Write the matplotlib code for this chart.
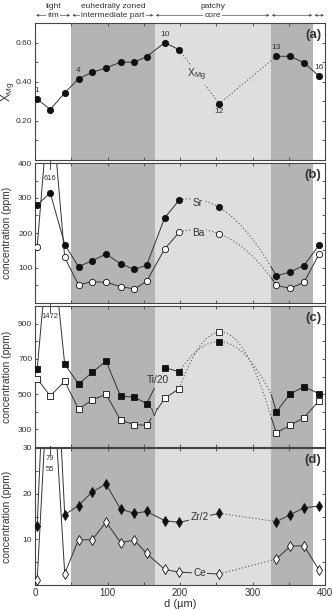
import numpy as np
import matplotlib
matplotlib.use('Agg')
import matplotlib.pyplot as plt
import matplotlib.transforms as mtransforms
from matplotlib.ticker import MultipleLocator, FixedLocator, FormatStrFormatter

# distance from rim (um) of the 16 analysis spots
d = [3, 21, 41, 60, 79, 98, 118, 137, 154, 179, 199, 254, 333, 352, 371, 392]

xmg = [0.312, 0.258, 0.343, 0.415, 0.448, 0.470, 0.500, 0.500, 0.528, 0.600, 0.563, 0.288, 0.530, 0.530, 0.497, 0.428]
sr = [280, 315, 167, 104, 121, 140, 112, 96, 108, 244, 294, 273, 77, 89, 107, 166]
ba = [160, 616, 130, 52, 61, 59, 47, 40, 62, 155, 202, 198, 50, 42, 59, 140]
ti20 = [642, 1472, 669, 558, 623, 688, 488, 483, 446, 650, 627, 798, 400, 502, 542, 502]
v = [587, 490, 573, 415, 467, 500, 352, 327, 323, 477, 531, 852, 281, 323, 367, 463]
zr2 = [13.0, 79, 15.4, 17.4, 20.4, 22.1, 16.6, 15.7, 16.1, 14.1, 13.7, 15.7, 13.9, 15.4, 16.9, 17.3]
ce = [1.1, 55, 2.5, 9.9, 9.9, 13.8, 9.3, 9.8, 6.9, 3.4, 2.8, 2.4, 5.7, 8.5, 8.6, 3.2]

# where the dotted interpolation in (b) and (c) ends
gap_x = 326
sr_gap, ba_gap, ti_gap, v_gap = 102, 72, 496, 365

# zones
zone_edges = [0, 50, 165, 325, 384, 400]
zone_top = ['light', 'euhedrally zoned', 'patchy', '', '']
zone_bottom = ['rim', 'intermediate part', 'core', '', '']
zone_colors = ['white', '#b4b4b4', '#dedede', '#b4b4b4', 'white']

spot_numbers = {0: '1', 3: '4', 9: '10', 11: '12', 12: '13', 15: '16'}

plt.rcParams['font.family'] = ['Liberation Sans', 'DejaVu Sans']
TXT = '#333333'
LN = '#333333'
MK = '#111111'

fig = plt.figure(figsize=(3.32, 6.09), dpi=100)
W, H = 332, 609
boxes = [(23, 160), (163, 303), (306, 447), (448, 585)]
axes = [fig.add_axes([35 / W, 1 - b / H, 290 / W, (b - t) / H]) for t, b in boxes]
ax_a, ax_b, ax_c, ax_d = axes

for ax, letter in zip(axes, 'abcd'):
    for i in range(len(zone_edges) - 1):
        if zone_colors[i] != 'white':
            ax.axvspan(zone_edges[i], zone_edges[i + 1], color=zone_colors[i], lw=0, zorder=0)
    ax.set_xlim(0, 400)
    ax.xaxis.set_major_locator(MultipleLocator(100))
    ax.xaxis.set_minor_locator(MultipleLocator(50))
    ax.tick_params(which='both', direction='in', top=True, right=True, length=2.5,
                   width=0.6, color='#444444', labelcolor=TXT, labelsize=6, pad=2)
    for s in ax.spines.values():
        s.set_color('#444444')
        s.set_linewidth(0.8)
    if letter != 'd':
        ax.tick_params(labelbottom=False)
    ax.text(0.988, 0.915, f'({letter})', transform=ax.transAxes, ha='right', va='center',
            fontsize=9.5, fontweight='bold', color=TXT)

line_kw = dict(color=LN, lw=0.7, zorder=2)
dot_kw = dict(color='#555555', lw=0.8, ls=(0, (1, 2)), zorder=2)


def markers(ax, y, marker, filled, ms):
    ax.plot(d, y, ls='none', marker=marker, ms=ms, mfc=MK if filled else 'white',
            mec=MK, mew=0.6, zorder=3)


def dotted_curve(ax, xs, ys):
    coef = np.polyfit(xs, ys, 2)
    xx = np.linspace(xs[0], xs[-1], 80)
    ax.plot(xx, np.polyval(coef, xx), **dot_kw)


def part_segment(ax, i, y, t0, t1):
    xa, xb, ya, yb = d[i], d[i + 1], y[i], y[i + 1]
    ax.plot([xa + t0 * (xb - xa), xa + t1 * (xb - xa)],
            [ya + t0 * (yb - ya), ya + t1 * (yb - ya)], **line_kw)


def inline_label(ax, x, y, s, size=7.3):
    ax.text(x, y, s, ha='center', va='center', fontsize=size, color=TXT, zorder=4,
            bbox=dict(boxstyle='square,pad=0.12', fc='#dedede', ec='none'))


def offscale(ax, tick_lo, tick_hi, labels):
    ax.plot([d[1], d[1]], [tick_lo, tick_hi], color=LN, lw=0.6, clip_on=False, zorder=4)
    for yy, s in labels:
        ax.text(d[1], yy, s, ha='center', va='center', fontsize=5.5, color=TXT, zorder=4)


def ylabel(ax, s, size=7.5):
    ax.set_ylabel(s, fontsize=size, color=TXT, va='center')
    ax.yaxis.set_label_coords(-0.095, 0.5)


# (a) X_Mg
ax_a.plot(d[:11], xmg[:11], **line_kw)
ax_a.plot(d[10:13], xmg[10:13], **dot_kw)
ax_a.plot(d[12:], xmg[12:], **line_kw)
markers(ax_a, xmg, 'o', True, 4.5)
inline_label(ax_a, 223, 0.433, r'$\mathregular{X_{Mg}}$', 7.5)
for i, s in spot_numbers.items():
    below = i == 11
    ax_a.annotate(s, (d[i], xmg[i]), xytext=(0, -6 if below else 6), textcoords='offset points',
                  ha='center', va='center', fontsize=6, color=TXT)
ax_a.set_ylim(0, 0.70)
ax_a.yaxis.set_major_locator(FixedLocator([0.2, 0.4, 0.6]))
ax_a.yaxis.set_minor_locator(MultipleLocator(0.1))
ax_a.yaxis.set_major_formatter(FormatStrFormatter('%.2f'))
ylabel(ax_a, r'$\mathregular{X_{Mg}}$', 8.5)

# header with zone arrows
trans = mtransforms.blended_transform_factory(ax_a.transData, ax_a.transAxes)
for i in range(len(zone_edges) - 1):
    x0, x1 = zone_edges[i], zone_edges[i + 1]
    ax_a.annotate('', xy=(x1 - 1.5, 1.056), xytext=(x0 + 1.5, 1.056), xycoords=trans, textcoords=trans,
                  arrowprops=dict(arrowstyle='<|-|>', lw=0.5, color='#555555', mutation_scale=3.5,
                                  shrinkA=0, shrinkB=0), annotation_clip=False)
    if zone_bottom[i]:
        xc = (x0 + x1) / 2
        ax_a.text(xc, 1.056, zone_bottom[i], transform=trans, ha='center', va='center', fontsize=6,
                  color=TXT, bbox=dict(boxstyle='square,pad=0.15', fc='white', ec='none'))
        ax_a.text(xc, 1.118, zone_top[i], transform=trans, ha='center', va='center', fontsize=6,
                  color=TXT)

# (b) Sr and Ba
for y, gy, filled, name, ly in [(sr, sr_gap, True, 'Sr', 285), (ba, ba_gap, False, 'Ba', 200)]:
    ax_b.plot(d[:11], y[:11], **line_kw)
    dotted_curve(ax_b, [d[10], d[11], gap_x], [y[10], y[11], gy])
    ax_b.plot([gap_x] + d[12:], [gy] + y[12:], **line_kw)
    markers(ax_b, y, 'o', filled, 4.5)
    inline_label(ax_b, 225, ly, name)
offscale(ax_b, 383, 405, [(355, '616')])
ax_b.set_ylim(0, 400)
ax_b.yaxis.set_major_locator(FixedLocator([100, 200, 300, 400]))
ax_b.yaxis.set_minor_locator(MultipleLocator(50))
ylabel(ax_b, 'concentration (ppm)')

# (c) Ti/20 and V
for y, gy, filled, gap in [(ti20, ti_gap, True, (0.42, 0.92)), (v, v_gap, False, (0.25, 0.58))]:
    ax_c.plot(d[:9], y[:9], **line_kw)
    part_segment(ax_c, 8, y, 0, gap[0])
    part_segment(ax_c, 8, y, gap[1], 1)
    ax_c.plot(d[9:11], y[9:11], **line_kw)
    dotted_curve(ax_c, [d[10], d[11], gap_x], [y[10], y[11], gy])
    ax_c.plot([gap_x] + d[12:], [gy] + y[12:], **line_kw)
    markers(ax_c, y, 's', filled, 4)
ax_c.text(170, 578, 'Ti/20', ha='center', va='center', fontsize=7.3, color=TXT, zorder=4)
ax_c.text(164.5, 392, 'V', ha='center', va='center', fontsize=7.3, color=TXT, zorder=4)
offscale(ax_c, 965, 1012, [(938, '1472')])
ax_c.set_ylim(200, 1000)
ax_c.yaxis.set_major_locator(FixedLocator([300, 500, 700, 900]))
ax_c.yaxis.set_minor_locator(MultipleLocator(100))
ylabel(ax_c, 'concentration (ppm)')

# (d) Zr/2 and Ce
for y, filled, name, ly in [(zr2, True, 'Zr/2', 14.8), (ce, False, 'Ce', 2.6)]:
    ax_d.plot(d[:12], y[:12], **line_kw)
    ax_d.plot(d[11:13], y[11:13], **dot_kw)
    ax_d.plot(d[12:], y[12:], **line_kw)
    markers(ax_d, y, 'd', filled, 5.5)
    inline_label(ax_d, 227, ly, name)
offscale(ax_d, 28.6, 30.4, [(27.6, '79'), (25.4, '55')])
ax_d.set_ylim(0, 30)
ax_d.yaxis.set_major_locator(FixedLocator([10, 20, 30]))
ax_d.yaxis.set_minor_locator(MultipleLocator(5))
ax_d.tick_params(axis='x', labelsize=7)
ylabel(ax_d, 'concentration (ppm)')
ax_d.set_xlabel('d (µm)', fontsize=8, color=TXT, labelpad=1)

fig.savefig('out.png', dpi=100)
